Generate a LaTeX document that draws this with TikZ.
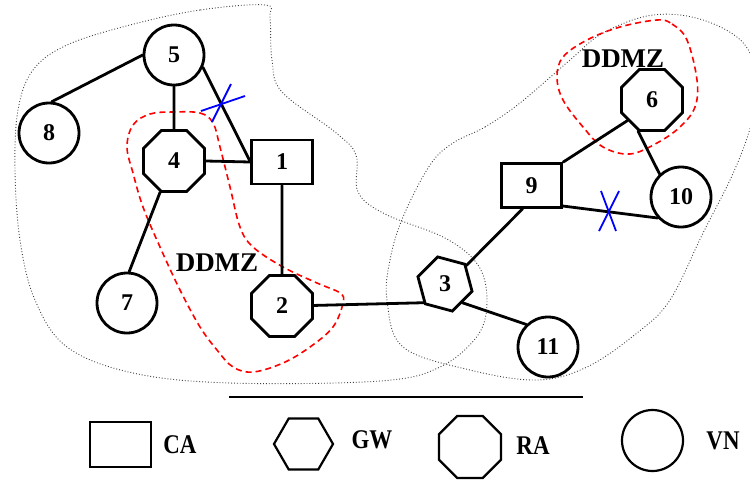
\documentclass[tikz,border=0pt]{standalone}
\usepackage{fontspec}
\usepackage{graphicx}
\setmainfont{Liberation Serif}
\usetikzlibrary{shapes.geometric}

\newcommand{\numfont}{\fontsize{24}{24}\selectfont\bfseries}
\newcommand{\zonefont}{\fontsize{27}{27}\selectfont\bfseries}
\newcommand{\keyfont}{\fontsize{27}{27}\selectfont\bfseries}
\newcommand{\keytext}[1]{\scalebox{0.85}[1]{#1}}

\tikzset{
  nd/.style={draw, line width=2.8pt, fill=white, inner sep=0pt, font=\numfont},
  vn/.style={nd, circle, minimum size=60pt},
  ra/.style={nd, regular polygon, regular polygon sides=8, minimum size=66pt},
  gw/.style={nd, regular polygon, regular polygon sides=6, minimum size=56pt},
  ca/.style={nd, rectangle, minimum width=60.5pt, minimum height=44pt},
  link/.style={line width=2.8pt, line cap=round},
  cut/.style={blue, line width=1.8pt},
  region/.style={black!75, line width=0.9pt, dotted},
  zone/.style={red, line width=1.6pt, dash pattern=on 6pt off 4pt},
  keyshape/.style={draw, line width=2.2pt, inner sep=0pt},
  keylabel/.style={font=\keyfont, inner sep=0pt},
}

\begin{document}
\begin{tikzpicture}[x=1pt, y=-1pt]
\useasboundingbox (0,0) rectangle (750,480);
\clip (0,0) rectangle (750,480);

% administrative regions
\draw[region] plot[smooth cycle, tension=0.6] coordinates {
  (265,5) (200,10) (130,25) (67,45) (33,70) (18,110) (15,170) (20,240)
  (35,300) (67,347) (133,373) (230,383) (380,381) (440,367) (478,335)
  (487,300) (478,265) (445,238) (385,214) (358,192) (356,155) (335,132)
  (282,92) (272,60) (270,18)};
\draw[region] plot[smooth cycle, tension=0.6] coordinates {
  (453,143) (485,127) (520,103) (570,60) (603,33) (653,15) (703,20)
  (745,45) (758,90) (748,135) (730,180) (703,233) (670,300) (637,333)
  (587,367) (537,380) (470,370) (403,347) (387,300) (390,260) (403,217)
  (430,165)};

% DDMZ zones
\draw[zone] plot[smooth cycle, tension=0.6] coordinates {
  (173,112) (200,113) (213,123) (220,147) (230,187) (240,227) (253,247)
  (283,267) (317,283) (340,293) (343,303) (333,327) (310,347) (283,363)
  (253,372) (233,367) (217,350) (200,327) (180,290) (160,247) (143,207)
  (133,173) (127,147) (133,125) (150,114)};
\draw[zone] plot[smooth cycle, tension=0.6] coordinates {
  (657,20) (672,24) (687,40) (697,80) (695,107) (680,127) (657,143)
  (630,154) (603,147) (583,127) (563,100) (557,77) (563,57) (587,40)
  (620,27)};

% nodes
\node[vn] (5) at (174,55) {5};
\node[vn] (8) at (49,133) {8};
\node[ra] (4) at (174,161) {4};
\node[ca] (1) at (282,162) {1};
\node[vn] (7) at (127,303) {7};
\node[ra] (2) at (282,306) {2};
\node[gw, shape border rotate=-15] (3) at (445,284) {3};
\node[ca] (9) at (531.5,185.5) {9};
\node[ra] (6) at (652,100) {6};
\node[vn] (10) at (681,197) {10};
\node[vn] (11) at (548,347) {11};

\node[font=\zonefont, inner sep=0pt] (z1) at (217,263) {DDMZ};
\node[font=\zonefont, inner sep=0pt] (z2) at (623,59) {DDMZ};

% links
\draw[link] (5.180) -- (8.85);
\draw[link] (5.south) -- (4.north);
\draw[link] (5.337) -- (1.west);
\draw[link] (4.east) -- (1.west);
\draw[link] (4.246) -- (7.86);
\draw[link] (1.south) -- (2.north);
\draw[link] (2.1) -- (3.221);
\draw[link] (3.41) -- (9.249);
\draw[link] (3.313) -- (11.134);
\draw[link] (9.north east) -- (6.220);
\draw[link] (6.246) -- (10.133);
\draw[link] (9.327) -- (10.222);

% broken links
\draw[cut] (201,111) -- (245,96);
\draw[cut] (212,122) -- (231,84);
\draw[cut] (599,231) -- (619,191);
\draw[cut] (601,191) -- (616,231);

% legend
\coordinate (sepL) at (229,397);
\coordinate (sepR) at (583,397);
\draw[line width=2.2pt] (sepL) -- (sepR);

\node[keyshape, rectangle, minimum width=61pt, minimum height=45pt] (kca) at (120.5,444.5) {};
\node[keylabel] (tca) at (180,445) {\keytext{CA}};
\node[keyshape, regular polygon, regular polygon sides=6, minimum size=59pt] (kgw) at (303.5,444) {};
\node[keylabel] (tgw) at (372,440) {\keytext{GW}};
\node[keyshape, regular polygon, regular polygon sides=8, minimum size=67pt] (kra) at (470,447) {};
\node[keylabel] (tra) at (533,446) {\keytext{RA}};
\node[keyshape, circle, minimum size=61pt] (kvn) at (652.5,440.5) {};
\node[keylabel] (tvn) at (723,441) {\keytext{VN}};
\end{tikzpicture}
\end{document}
